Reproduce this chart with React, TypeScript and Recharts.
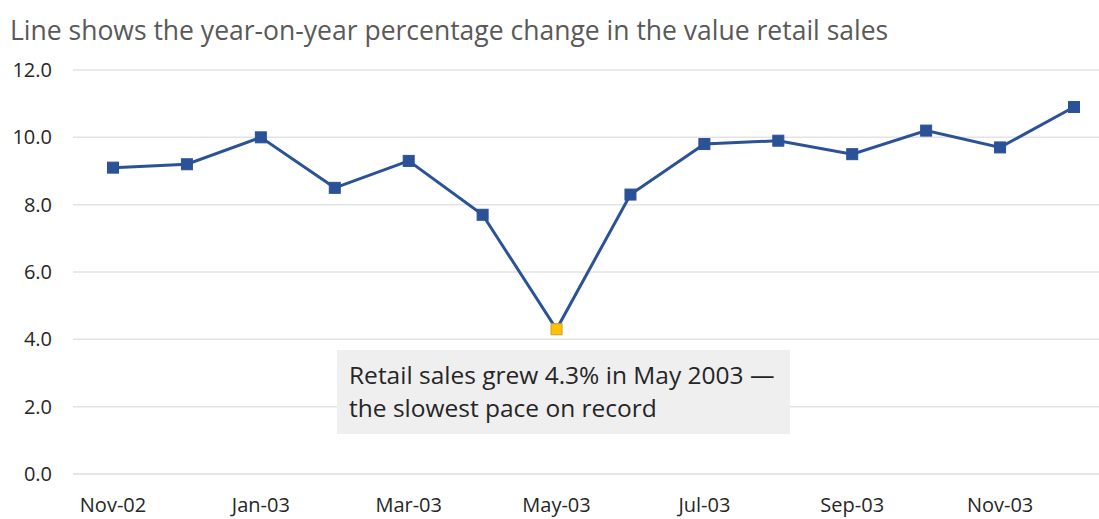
import React from 'react';
import { LineChart, Line, XAxis, YAxis, CartesianGrid } from 'recharts';

// year-on-year % change in retail sales value
const months = [
  'Nov-02', 'Dec-02', 'Jan-03', 'Feb-03', 'Mar-03', 'Apr-03', 'May-03',
  'Jun-03', 'Jul-03', 'Aug-03', 'Sep-03', 'Oct-03', 'Nov-03', 'Dec-03',
];
const retailGrowth = [9.1, 9.2, 10.0, 8.5, 9.3, 7.7, 4.3, 8.3, 9.8, 9.9, 9.5, 10.2, 9.7, 10.9];
const yTicks = [0, 2, 4, 6, 8, 10, 12];
const highlightMonth = 'May-03';

const titleText = 'Line shows the year-on-year percentage change in the value retail sales';
const noteLines = ['Retail sales grew 4.3% in May 2003 \u2014', 'the slowest pace on record'];

const FONT = '"Open Sans", "Noto Sans", sans-serif';
const LINE_BLUE = '#2B5296';

const SquareDot = (props: any) => {
  const { cx, cy, payload, index } = props;
  if (cx == null || cy == null) return null;
  const hi = payload.month === highlightMonth;
  return (
    <rect
      key={`dot-${index}`}
      x={cx - 5.5}
      y={cy - 5.5}
      width={11}
      height={11}
      fill={hi ? '#FFC000' : LINE_BLUE}
      stroke={hi ? '#C9A227' : LINE_BLUE}
      strokeWidth={1}
    />
  );
};

export default function App() {
  const data = React.useMemo(
    () => months.map((month, i) => ({ month, value: retailGrowth[i] })),
    []
  );

  return (
    <div
      style={{
        position: 'fixed',
        left: 0,
        top: 0,
        width: 1099,
        height: 519,
        overflow: 'hidden',
        background: '#fff',
        fontFamily: FONT,
      }}
    >
      <div
        style={{
          position: 'absolute',
          left: 10,
          top: 12,
          fontSize: 26.5,
          color: '#595959',
          whiteSpace: 'nowrap',
        }}
      >
        {titleText}
      </div>

      <div style={{ position: 'absolute', left: 0, top: 0 }}>
        <LineChart
          width={1099}
          height={519}
          data={data}
          margin={{ top: 70, right: 0, left: 0, bottom: 0 }}
          style={{ overflow: 'visible' }}
        >
          <CartesianGrid vertical={false} stroke="#E3E3E3" strokeWidth={1.5} />
          <XAxis
            dataKey="month"
            interval={1}
            height={45}
            axisLine={{ stroke: '#E3E3E3', strokeWidth: 1.5 }}
            tickLine={false}
            tickMargin={18}
            padding={{ left: 40, right: 25 }}
            tick={{ fill: '#262626', fontSize: 20, fontFamily: FONT }}
          />
          <YAxis
            domain={[0, 12]}
            ticks={yTicks}
            width={73}
            axisLine={false}
            tickLine={false}
            tickMargin={15}
            tickFormatter={(v: number) => v.toFixed(1)}
            tick={{ fill: '#262626', fontSize: 20, fontFamily: FONT }}
          />
          <Line
            type="linear"
            dataKey="value"
            stroke={LINE_BLUE}
            strokeWidth={3}
            dot={SquareDot}
            activeDot={false}
            isAnimationActive={false}
          />
        </LineChart>
      </div>

      <div
        style={{
          position: 'absolute',
          left: 337,
          top: 350,
          width: 453,
          height: 84,
          background: '#EFEFEF',
          boxSizing: 'border-box',
          padding: '8px 12px',
          fontSize: 24.5,
          lineHeight: '33px',
          color: '#262626',
        }}
      >
        {noteLines.map((l) => (
          <div key={l} style={{ whiteSpace: 'nowrap' }}>{l}</div>
        ))}
      </div>
    </div>
  );
}
